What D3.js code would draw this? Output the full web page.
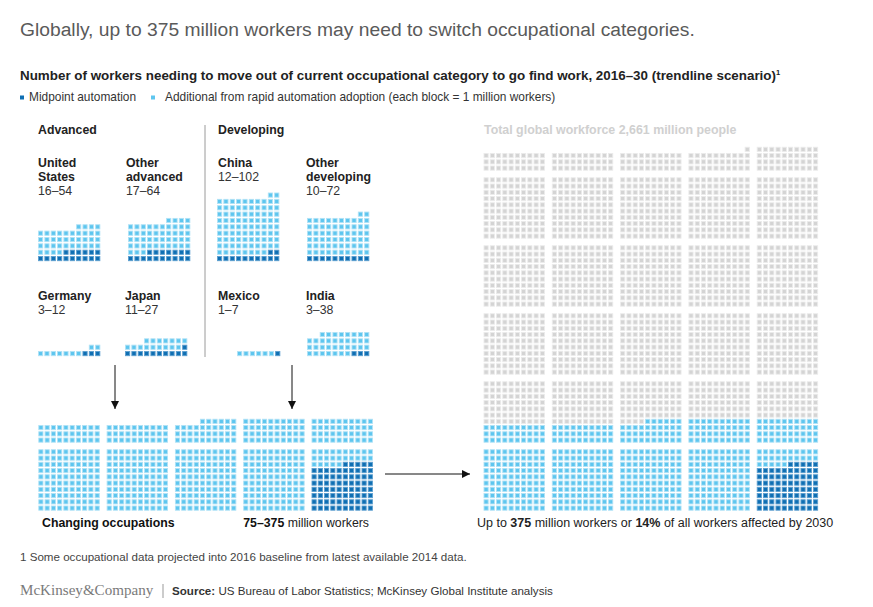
<!DOCTYPE html>
<html><head><meta charset="utf-8">
<script src="https://cdn.jsdelivr.net/npm/d3@7"></script>
<style>
html,body{margin:0;padding:0;background:#fff;}
svg{display:block;font-family:"Liberation Sans",Arial,Helvetica,sans-serif;}
</style></head>
<body>
<svg id="chart" width="873" height="607"></svg>
<script>
// ---------- DATA ----------
const regions = ["United States","Other advanced","China","Other developing","Germany","Japan","Mexico","India"];
const nameLines = [["United","States"],["Other","advanced"],["China"],["Other","developing"],["Germany"],["Japan"],["Mexico"],["India"]];
const midpointValues = [16,17,12,10,3,11,1,3];      // millions, midpoint automation
const rapidValues    = [54,64,102,72,12,27,7,38];   // millions, rapid automation adoption
const changingMidpoint = 75;      // aggregate midpoint blocks
const changingBlocks   = 676;     // aggregate blocks as drawn in the picture
const globalWorkforce  = 2661;    // total global workforce, millions
const groupHeaders = ["Advanced","Developing"];

// ---------- LAYOUT ----------
const gridX  = [38,128,217,307,38,125,218,307];
const labelX = [38,126,218,306,38,125,218,306];
const baseY  = [256,256,256,256,351,351,351,351];
const nameY  = [167,167,167,167,300,300,300,300];

const C_DARK = "#0f6fb3", C_DARK_S = "#5d9fcf";
const C_LIGHT = "#5ec6ef", C_LIGHT_S = "#b0e2f6";
const C_GRAY = "#d4d4d4", C_GRAY_S = "#ebebeb";

const svg = d3.select("#chart");

// Title & subtitle
svg.append("text").attr("x",20).attr("y",36).attr("font-size",19.25).attr("fill","#5a5a5a")
  .text("Globally, up to 375 million workers may need to switch occupational categories.");
const sub = svg.append("text").attr("x",20).attr("y",80).attr("font-size",13.4).attr("font-weight","bold").attr("fill","#222");
sub.append("tspan").text("Number of workers needing to move out of current occupational category to go find work, 2016–30 (trendline scenario)");
sub.append("tspan").attr("font-size",7.5).attr("dy",-5).text("1");

// Legend
const leg = svg.append("g");
leg.append("rect").attr("x",20).attr("y",95.5).attr("width",4).attr("height",4).attr("fill",C_DARK);
leg.append("text").attr("x",29).attr("y",101).attr("font-size",11.9).attr("fill","#333").text("Midpoint automation");
leg.append("rect").attr("x",151).attr("y",95.5).attr("width",4).attr("height",4).attr("fill",C_LIGHT);
leg.append("text").attr("x",165).attr("y",101).attr("font-size",11.9).attr("fill","#333")
  .text("Additional from rapid automation adoption (each block = 1 million workers)");

// Group headers
svg.append("text").attr("x",38).attr("y",134).attr("font-size",12.3).attr("font-weight","bold").attr("fill","#222").text(groupHeaders[0]);
svg.append("text").attr("x",218).attr("y",134).attr("font-size",12.3).attr("font-weight","bold").attr("fill","#222").text(groupHeaders[1]);
svg.append("text").attr("x",484).attr("y",134).attr("font-size",12.4).attr("font-weight","bold").attr("fill","#d0d0d0")
  .text("Total global workforce 2,661 million people");

// Divider
svg.append("line").attr("x1",205).attr("x2",205).attr("y1",125).attr("y2",357).attr("stroke","#9a9a9a").attr("stroke-width",1);

// ---------- country waffles ----------
const P = 6.35, S = 4.2;
function cell(g, x, y, fill, stroke){
  g.append("rect").attr("x",x+0.5).attr("y",y+0.5).attr("width",S).attr("height",S)
   .attr("fill",fill).attr("stroke",stroke).attr("stroke-width",0.9);
}
regions.forEach((r,k)=>{
  const g = svg.append("g");
  const xs = d3.scaleLinear().domain([0,9]).range([gridX[k], gridX[k]+9*P]);
  const ys = d3.scaleLinear().domain([0,1]).range([baseY[k], baseY[k]-P]);
  const cells = d3.range(rapidValues[k]).map(i=>({row:Math.floor(i/10), col:9-(i%10), dark:i<midpointValues[k]}));
  cells.forEach(c=> cell(g, xs(c.col), ys(c.row), c.dark?C_DARK:C_LIGHT, c.dark?C_DARK_S:C_LIGHT_S));
  const t = svg.append("g");
  nameLines[k].forEach((ln,j)=>{
    t.append("text").attr("x",labelX[k]).attr("y",nameY[k]+j*14).attr("font-size",12.3).attr("font-weight","bold").attr("fill","#222").text(ln);
  });
  t.append("text").attr("x",labelX[k]).attr("y",nameY[k]+nameLines[k].length*14).attr("font-size",12.3).attr("fill","#333")
   .text(midpointValues[k]+"–"+rapidValues[k]);
});

// ---------- aggregate waffles ----------
const AP = 6.25, GW = 68.3, BH = 68;
function aggregate(x0, yBottom, total, light, dark){
  const g = svg.append("g");
  const colS = d3.scaleLinear().domain([0,9]).range([0,9*AP]);
  const grpS = d3.scaleLinear().domain([0,4]).range([x0, x0+4*GW]);
  const rowS = d3.scaleLinear().domain([0,9]).range([0,-9*AP]);
  const bandS = d3.scaleLinear().domain([0,1]).range([yBottom, yBottom-BH]);
  d3.range(total).forEach(i=>{
    const row = Math.floor(i/50), colR = i%50, col = 49-colR;
    const grp = Math.floor(col/10), w = col%10;
    const band = Math.floor(row/10), rb = row%10;
    const local = rb*10 + (9-w);
    let f = C_GRAY, s = C_GRAY_S;
    if (i < light){ f = C_LIGHT; s = C_LIGHT_S; }
    if (grp===4 && band===0 && local < dark){ f = C_DARK; s = C_DARK_S; }
    cell(g, grpS(grp)+colS(w), bandS(band)+rowS(rb), f, s);
  });
}
aggregate(38.3, 505.5, changingBlocks, changingBlocks, changingMidpoint);
aggregate(483.5, 505.5, globalWorkforce, changingBlocks, changingMidpoint);

// Arrows
const defs = svg.append("defs");
defs.append("marker").attr("id","ah").attr("viewBox","0 0 10 10").attr("refX",10).attr("refY",5)
  .attr("markerWidth",8).attr("markerHeight",8).attr("markerUnits","userSpaceOnUse").attr("orient","auto")
  .append("path").attr("d","M0,0 L10,5 L0,10 Z").attr("fill","#111");
[[115,365,115,409],[292,365,292,409],[385,474,470,474]].forEach(a=>{
  svg.append("line").attr("x1",a[0]).attr("y1",a[1]).attr("x2",a[2]).attr("y2",a[3])
    .attr("stroke","#111").attr("stroke-width",1).attr("marker-end","url(#ah)");
});

// Bottom captions
svg.append("text").attr("x",42).attr("y",527).attr("font-size",12.3).attr("font-weight","bold").attr("fill","#111").text("Changing occupations");
const c2 = svg.append("text").attr("x",369).attr("y",527).attr("text-anchor","end").attr("font-size",12.3).attr("fill","#222");
c2.append("tspan").attr("font-weight","bold").attr("fill","#111").text("75–375");
c2.append("tspan").text(" million workers");
const c3 = svg.append("text").attr("x",477).attr("y",527).attr("font-size",12.5).attr("fill","#222");
c3.append("tspan").text("Up to ");
c3.append("tspan").attr("font-weight","bold").text("375");
c3.append("tspan").text(" million workers or ");
c3.append("tspan").attr("font-weight","bold").text("14%");
c3.append("tspan").text(" of all workers affected by 2030");

// Footnote & source
svg.append("text").attr("x",20).attr("y",561).attr("font-size",11.6).attr("fill","#444")
  .text("1 Some occupational data projected into 2016 baseline from latest available 2014 data.");
svg.append("text").attr("x",20).attr("y",595).attr("font-size",15.1).attr("font-family","'Liberation Serif','DejaVu Serif',serif").attr("fill","#7a7a7a")
  .text("McKinsey&Company");
svg.append("line").attr("x1",163).attr("x2",163).attr("y1",584).attr("y2",598).attr("stroke","#999");
const src = svg.append("text").attr("x",172).attr("y",595).attr("font-size",11.6).attr("fill","#333");
src.append("tspan").attr("font-weight","bold").text("Source:");
src.append("tspan").text(" US Bureau of Labor Statistics; McKinsey Global Institute analysis");
</script>
</body></html>
